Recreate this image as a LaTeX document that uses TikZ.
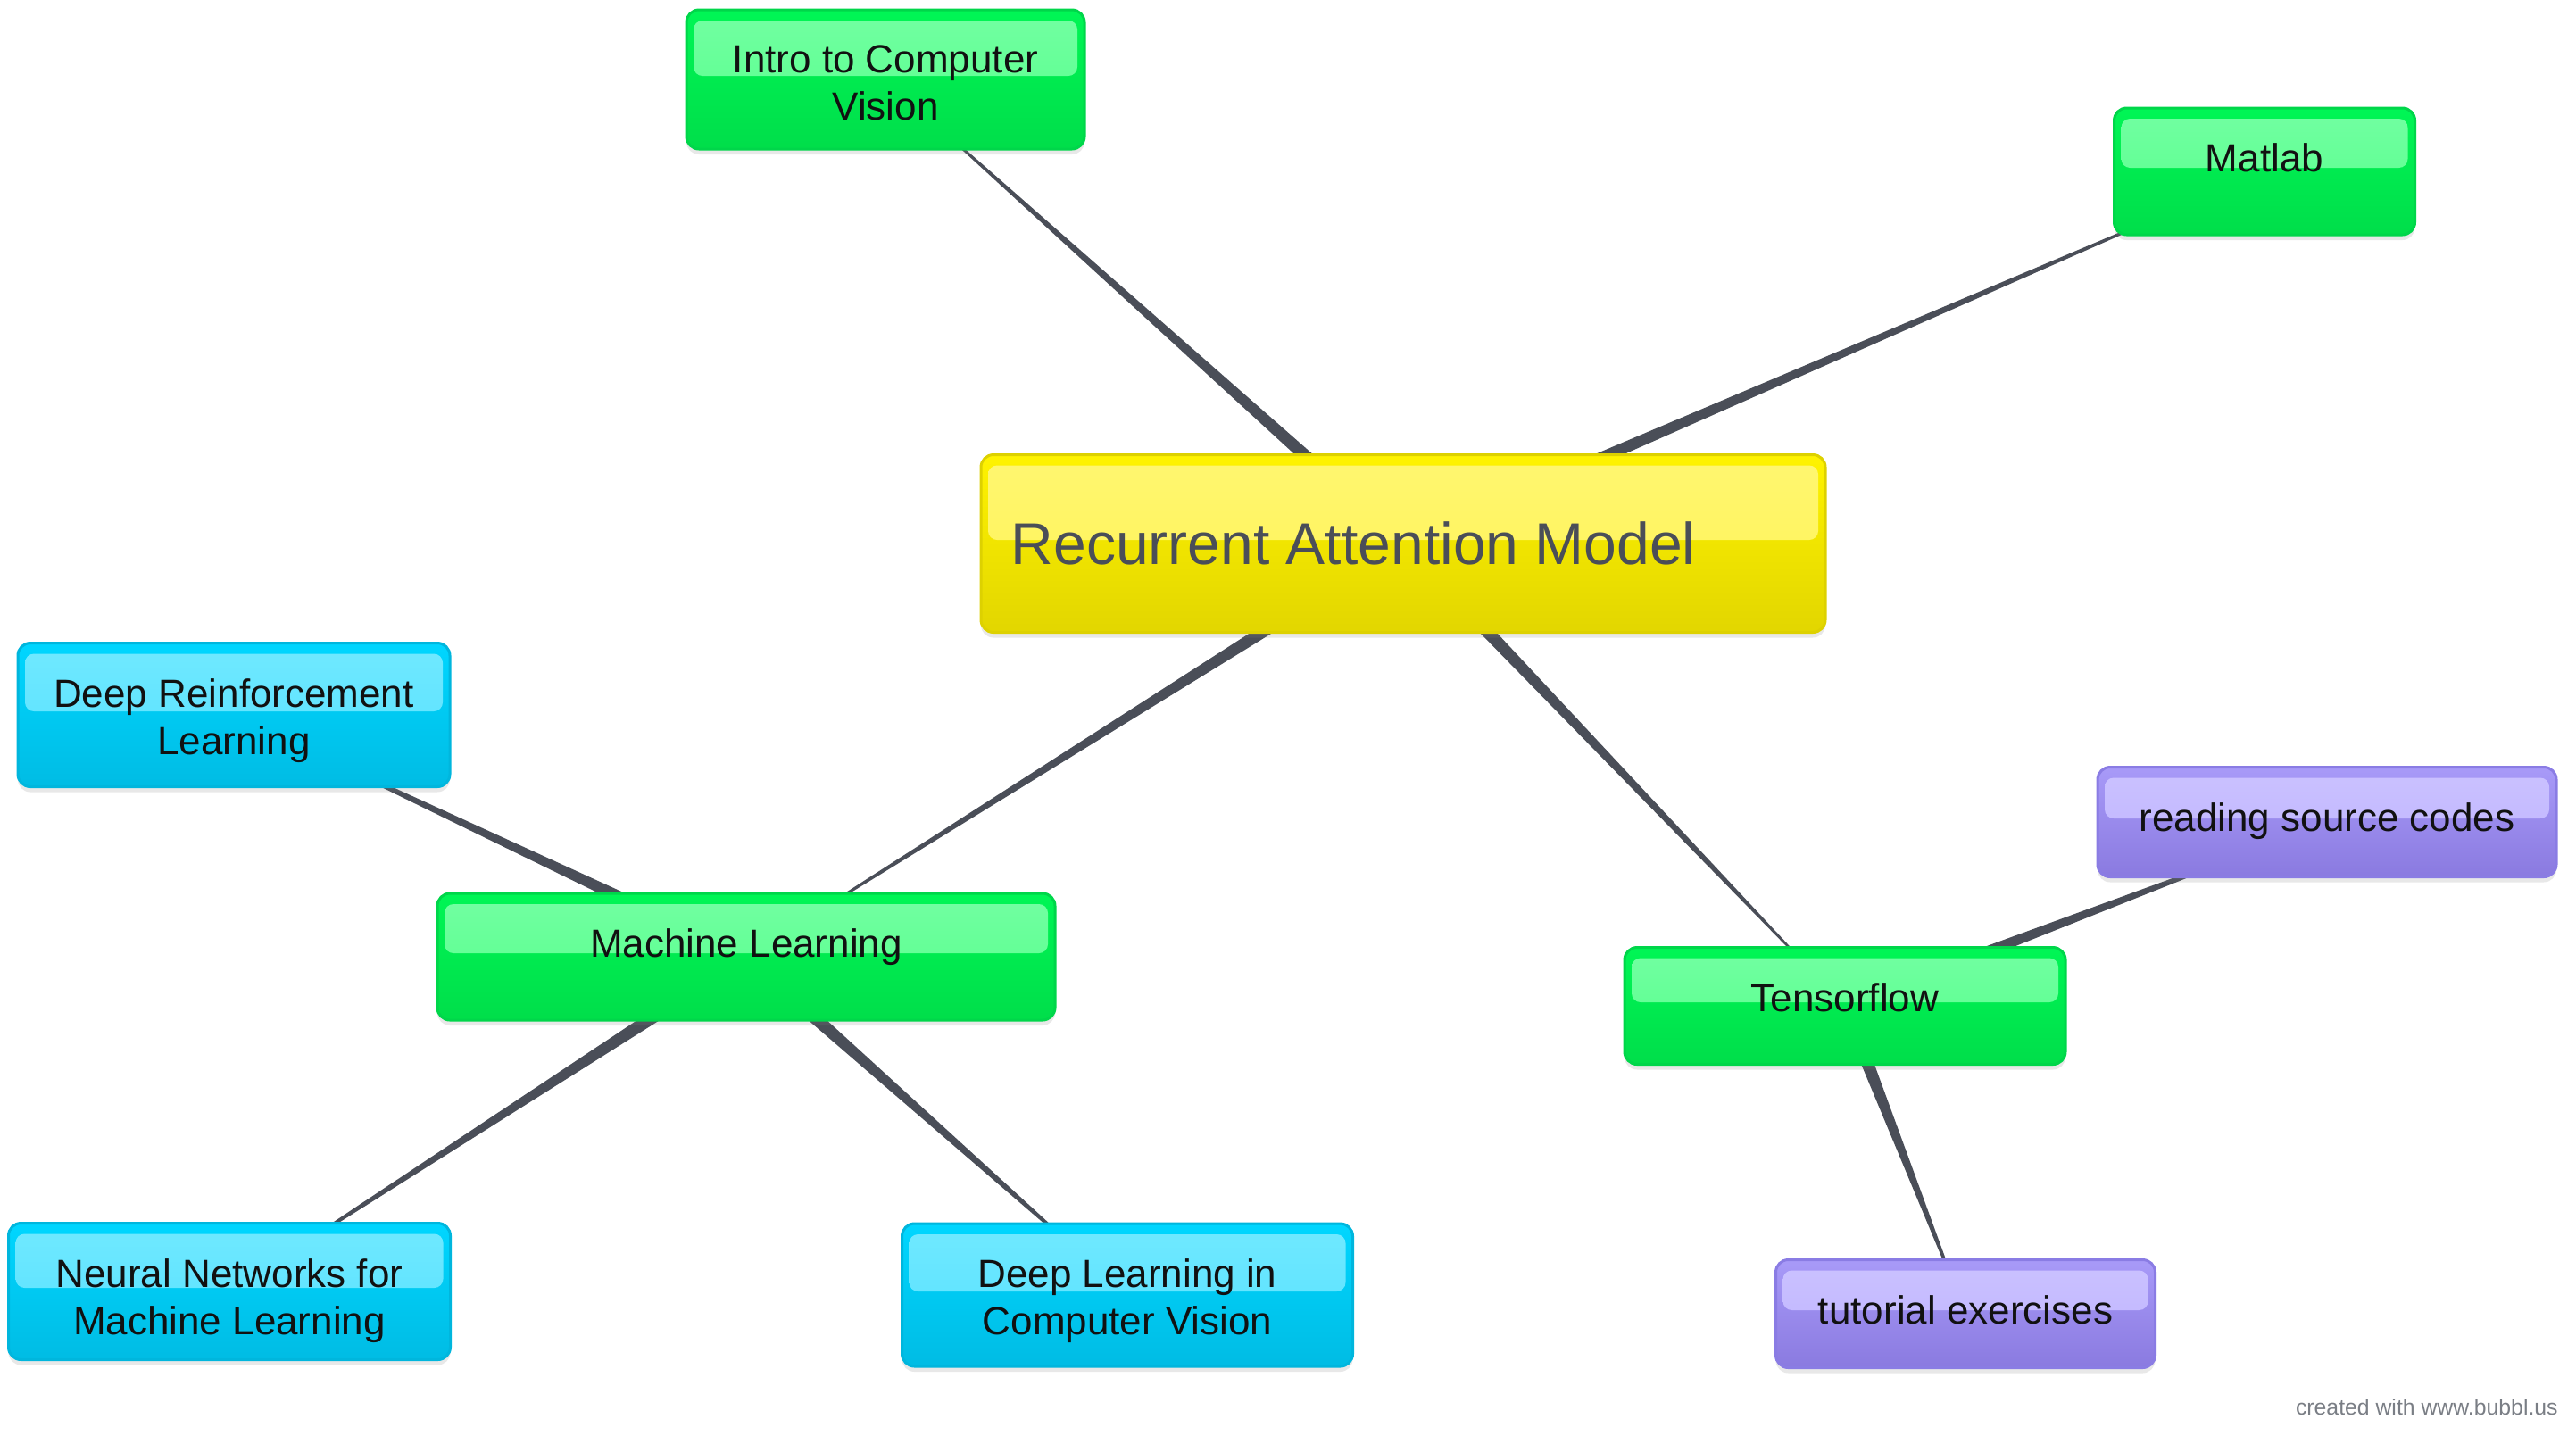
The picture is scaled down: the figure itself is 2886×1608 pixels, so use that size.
\documentclass[tikz,border=0pt]{standalone}
\usepackage{fontspec}
\setmainfont{Liberation Sans}
\usetikzlibrary{calc,shadows,backgrounds}
\definecolor{connc}{HTML}{4A4E58}
\definecolor{rootink}{HTML}{4A4E58}
\definecolor{ink}{HTML}{111111}
\definecolor{footgray}{HTML}{7A7E85}
% green
\definecolor{gBord}{HTML}{00D64A}
\definecolor{gTop}{HTML}{00F655}
\definecolor{gBot}{HTML}{00DE4A}
\definecolor{gHiA}{HTML}{72FFA2}
\definecolor{gHiB}{HTML}{55FF8A}
% cyan
\definecolor{cBord}{HTML}{00B6DD}
\definecolor{cTop}{HTML}{00D6FF}
\definecolor{cBot}{HTML}{00BCE4}
\definecolor{cHiA}{HTML}{70E9FF}
\definecolor{cHiB}{HTML}{55E0FF}
% yellow
\definecolor{yBord}{HTML}{DDD100}
\definecolor{yTop}{HTML}{FFF300}
\definecolor{yBot}{HTML}{E2D600}
\definecolor{yHiA}{HTML}{FFF670}
\definecolor{yHiB}{HTML}{FFF455}
% purple
\definecolor{pBord}{HTML}{8A7CE4}
\definecolor{pTop}{HTML}{A89AF8}
\definecolor{pBot}{HTML}{8A7AE0}
\definecolor{pHiA}{HTML}{CBC2FF}
\definecolor{pHiB}{HTML}{BDB2FF}
\tikzset{
  mapbox/.style n args={5}{rectangle, rounded corners=7pt, inner sep=0pt,
    draw=#1, line width=1.5pt, top color=#2, bottom color=#3,
    drop shadow={opacity=0.18, shadow xshift=0pt, shadow yshift=-3pt},
    path picture={\shade[top color=#4, bottom color=#5, rounded corners=5pt]
      ([xshift=4pt,yshift=-6pt]path picture bounding box.north west) rectangle
      ([xshift=-4pt,yshift=2pt]path picture bounding box.east);}},
  greenbox/.style={mapbox={gBord}{gTop}{gBot}{gHiA}{gHiB}},
  cyanbox/.style={mapbox={cBord}{cTop}{cBot}{cHiA}{cHiB}},
  yellowbox/.style={mapbox={yBord}{yTop}{yBot}{yHiA}{yHiB}},
  purplebox/.style={mapbox={pBord}{pTop}{pBot}{pHiA}{pHiB}},
  lbl/.style={anchor=north, inner sep=0pt, align=center, text=ink,
    font=\fontsize{22}{26.5}\selectfont},
  rootlbl/.style={anchor=base west, inner sep=0pt, text=rootink,
    font=\fontsize{33}{38}\selectfont},
  conn/.style={fill=connc}
}
\newcommand\wedgeconn[2]{%
  \fill[conn] ($(#1)!4.2pt!90:(#2)$) -- ($(#2)!0.15pt!-90:(#1)$) --
    ($(#2)!0.15pt!90:(#1)$) -- ($(#1)!4.2pt!-90:(#2)$) -- cycle;}
\begin{document}
\begin{tikzpicture}[x=0.5pt,y=-0.5pt]
\useasboundingbox (0,0) rectangle (2886,1608);
% boxes
\node[yellowbox, minimum width=473pt, minimum height=99.5pt] (root) at (1572,609) {};
\node[greenbox, minimum width=223pt, minimum height=78pt] (intro) at (992,89) {};
\node[greenbox, minimum width=168.5pt, minimum height=71pt] (matlab) at (2537,192) {};
\node[greenbox, minimum width=346pt, minimum height=71pt] (ml) at (836,1072) {};
\node[greenbox, minimum width=247pt, minimum height=65.5pt] (tf) at (2067,1127) {};
\node[cyanbox, minimum width=242pt, minimum height=80.5pt] (drl) at (262,801) {};
\node[cyanbox, minimum width=247.5pt, minimum height=76.5pt] (nn) at (257,1447) {};
\node[cyanbox, minimum width=252.5pt, minimum height=80pt] (dlcv) at (1263,1451) {};
\node[purplebox, minimum width=257pt, minimum height=61.5pt] (rsc) at (2607,921) {};
\node[purplebox, minimum width=212.5pt, minimum height=60.5pt] (tut) at (2202,1472) {};
% labels
\node[rootlbl] (root-t) at ($(root.west)+(35,23)$) {Recurrent Attention Model};
\node[lbl] (intro-t) at ($(intro.north)+(0,41)$) {Intro to Computer\\Vision};
\node[lbl] (matlab-t) at ($(matlab.north)+(0,41)$) {Matlab};
\node[lbl] (ml-t) at ($(ml.north)+(0,41)$) {Machine Learning};
\node[lbl] (tf-t) at ($(tf.north)+(0,41)$) {Tensorflow};
\node[lbl] (drl-t) at ($(drl.north)+(0,41)$) {Deep Reinforcement\\Learning};
\node[lbl] (nn-t) at ($(nn.north)+(0,41)$) {Neural Networks for\\Machine Learning};
\node[lbl] (dlcv-t) at ($(dlcv.north)+(0,41)$) {Deep Learning in\\Computer Vision};
\node[lbl] (rsc-t) at ($(rsc.north)+(0,41)$) {reading source codes};
\node[lbl] (tut-t) at ($(tut.north)+(0,41)$) {tutorial exercises};
\node[anchor=base east, inner sep=0pt, text=footgray,
  font=\fontsize{12.4}{14}\selectfont] (credit) at (2866,1585) {created with www.bubbl.us};
% connectors
\begin{scope}[on background layer]
\wedgeconn{root}{intro}
\wedgeconn{root}{matlab}
\wedgeconn{root}{ml}
\wedgeconn{root}{tf}
\wedgeconn{ml}{drl}
\wedgeconn{ml}{nn}
\wedgeconn{ml}{dlcv}
\wedgeconn{tf}{rsc}
\wedgeconn{tf}{tut}
\end{scope}
\end{tikzpicture}
\end{document}
